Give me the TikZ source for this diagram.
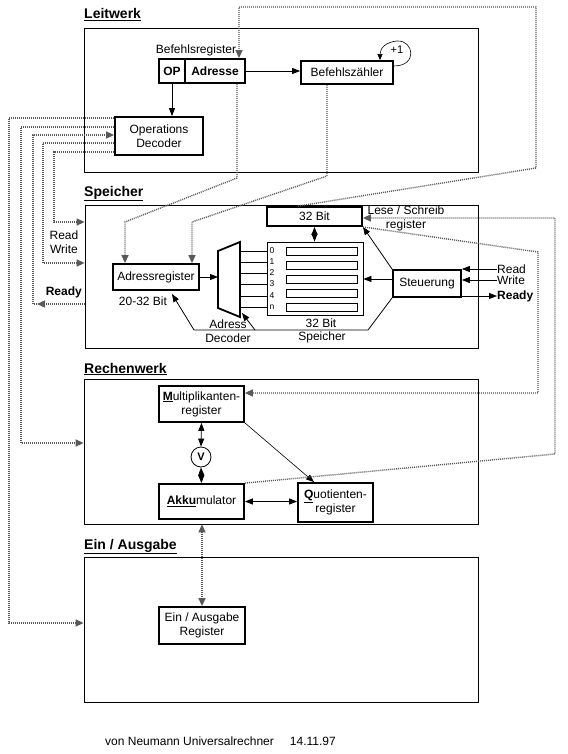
\documentclass[tikz,border=0pt]{standalone}
\usepackage{fontspec}
\setmainfont{Liberation Sans}
\usetikzlibrary{arrows.meta}
\definecolor{dg}{gray}{0.35}
\tikzset{
  tri/.tip={Triangle[length=8pt,width=6pt]},
  gtri/.tip={Triangle[length=8pt,width=7pt]},
  unitbox/.style={draw, line width=0.8pt, inner sep=0pt},
  reg/.style={draw, line width=1.8pt, inner sep=0pt, align=center, fill=white},
  hd/.style={anchor=base west, inner sep=0pt, font=\fontsize{14}{16}\selectfont\bfseries},
  lbl/.style={inner sep=0pt, align=center},
  sig/.style={line width=0.8pt, -tri},
  dsig/.style={line width=0.8pt, tri-tri},
  bus/.style={draw=dg, line width=1.4pt, dash pattern=on 1pt off 1pt, -gtri}
}

\begin{document}
\begin{tikzpicture}[x=1pt,y=-1pt,font=\fontsize{12}{14}\selectfont]
  \useasboundingbox (0,0) rectangle (567,754);
  % units
  \node[unitbox, minimum width=394pt, minimum height=144pt] (lw) at (281,100) {};
  \node[unitbox, minimum width=393pt, minimum height=143pt] (sp) at (281.5,276.5) {};
  \node[unitbox, minimum width=394pt, minimum height=145pt] (rw) at (281,451.5) {};
  \node[unitbox, minimum width=394pt, minimum height=145pt] (ea) at (281,629.5) {};
  \node[hd] (hlw) at (84,19) {\underline{Leitwerk}};
  \node[hd] (hsp) at (84,196) {\underline{Speicher}};
  \node[hd] (hrw) at (84,373) {\underline{Rechenwerk}};
  \node[hd] (hea) at (84,549) {\underline{Ein / Ausgabe}};

  % Leitwerk
  \node[lbl] (brl) at (196,50) {Befehlsregister};
  \node[reg, minimum width=26pt, minimum height=24pt, font=\fontsize{12}{14}\selectfont\bfseries] (op) at (172,71) {OP};
  \node[reg, minimum width=60pt, minimum height=24pt, font=\fontsize{12}{14}\selectfont\bfseries] (adrf) at (215,71) {Adresse};
  \node[reg, minimum width=92pt, minimum height=23pt] (bz) at (347,72.5) {Befehlszähler};
  \node[reg, minimum width=88pt, minimum height=38pt] (opdec) at (159,136) {Operations\\Decoder};
  \draw[sig] (adrf.east) -- (adrf.east -| bz.west);
  \draw[sig] (op.south) -- (op.south |- opdec.north);
  \draw[line width=0.6pt, -{Triangle[length=6pt,width=5pt]}] (bz.east |- 0,66) .. controls (418,66) and (414,40) .. (397,41) .. controls (386,42) and (380,48) .. (bz.north -| 380,0);
  \node[lbl, font=\fontsize{11}{13}\selectfont] (inc) at (397,50) {+1};

  % Speicher
  \node[reg, minimum width=86pt, minimum height=26pt] (areg) at (156,277) {Adressregister};
  \node[lbl] (abit) at (143,301) {20-32 Bit};
  \draw[line width=1.8pt] (218,251) -- (240,242) -- (240,317) -- (218,308) -- cycle;
  \coordinate (decin) at (218,277);
  \coordinate (decbr) at (242,313);
  \coordinate (actl) at (172,294);
  \draw[sig] (areg.east) -- (decin);
  \node[unitbox, minimum width=96pt, minimum height=73pt] (mem) at (315,278.5) {};
  \foreach \y/\k in {251/0,262/1,273/2,284/3,296/4,307/n} {
    \draw[line width=0.8pt] (240,\y) -- (mem.west |- 0,\y);
    \node[inner sep=0pt, font=\fontsize{8.5}{9}\selectfont] (idx\k) at (272,\y) {\k};}
  \foreach \y in {251.5,265.5,279.5,293.5,307.5}
    \draw[line width=0.8pt] (286,\y-4) rectangle (357,\y+4);
  \node[reg, minimum width=95pt, minimum height=19pt] (lsr) at (314.5,216.5) {32 Bit};
  \node[lbl] (lsr1) at (406,210) {Lese / Schreib};
  \node[lbl] (lsr2) at (406,225) {register};
  \node[reg, minimum width=68pt, minimum height=27pt] (steu) at (427,283.5) {Steuerung};
  \draw[dsig] (lsr.south) -- (lsr.south |- mem.north);
  \draw[sig] (steu.west |- 0,279) -- (mem.east |- 0,279);
  \draw[sig] (steu.north west) -- (lsr.south east);
  \draw[sig] (steu.south west) -- (368,330) -- (194,330) -- (actl);
  \draw[sig] (255,330) -- (decbr);
  \node[lbl] (dl1) at (228,324) {Adress};
  \node[lbl] (dl2) at (228,338) {Decoder};
  \node[lbl] (ml1) at (321,323) {32 Bit};
  \node[lbl] (ml2) at (322,337) {Speicher};
  \node[lbl, anchor=west] (rd) at (497,269) {Read};
  \node[lbl, anchor=west] (wr) at (497,280) {Write};
  \node[lbl, anchor=west, font=\fontsize{12}{14}\selectfont\bfseries] (ry) at (497,296) {Ready};
  \draw[sig] (rd.west) -- (steu.east |- rd.west);
  \draw[sig] (wr.west) -- (steu.east |- wr.west);
  \draw[sig] (steu.east |- ry.west) -- (ry.west);

  % Rechenwerk
  \node[reg, minimum width=85pt, minimum height=36pt] (mult) at (201.5,404) {\underline{\textbf{M}}ultiplikanten-\\register};
  \node[draw, circle, line width=0.8pt, minimum size=20pt, inner sep=0pt, font=\fontsize{11}{13}\selectfont\bfseries] (vv) at (201,457) {V};
  \node[reg, minimum width=85pt, minimum height=35pt] (akku) at (201.5,501.5) {\underline{\textbf{Akku}}mulator};
  \node[reg, minimum width=75pt, minimum height=39pt] (quot) at (335.5,502.5) {\underline{\textbf{Q}}uotienten-\\register};
  \draw[dsig] (mult.south) -- (vv.north);
  \draw[dsig] (vv.south) -- (akku.north);
  \draw[dsig] (akku.east) -- (quot.west |- akku.east);
  \draw[line width=0.6pt, -tri] (mult.south east) -- (quot.north -| 314,0);

  % Ein / Ausgabe
  \node[reg, minimum width=86pt, minimum height=37pt] (eareg) at (202,625.5) {Ein / Ausgabe\\Register};
  \draw[bus, gtri-gtri] (eareg.north |- rw.south) -- (eareg.north);

  % buses between the units
  \draw[bus] (adrf.south -| 237,0) -- (237,178) -- (125,222) -- (areg.north -| 125,0);
  \draw[bus] (bz.south -| 327,0) -- (327,176) -- (192,222) -- (areg.north -| 192,0);
  \draw[bus] (lsr.north -| 298,0) -- (536,168) -- (536,7) -- (239,7) -- (adrf.north -| 239,0);
  \draw[bus] (akku.north east) -- (555,454) -- (555,218) -- (lsr.east |- 0,218);
  \draw[bus] (lsr.south east) -- (538,252) -- (538,393) -- (mult.east |- 0,393);

  % control lines
  \coordinate (rdyb) at (37,304);
  \draw[bus] (opdec.west |- 0,118) -- (9,118) -- (9,623) -- (ea.west |- 0,623);
  \draw[bus] (opdec.west |- 0,127) -- (21,127) -- (21,443) -- (rw.west |- 0,443);
  \draw[bus] (sp.west |- 0,304) -- (rdyb);
  \draw[bus] (rdyb) -- (33,304) -- (33,135) -- (opdec.west |- 0,135);
  \draw[bus] (opdec.west |- 0,143) -- (43,143) -- (43,263) -- (sp.west |- 0,263);
  \draw[bus] (opdec.west |- 0,152) -- (54,152) -- (54,222) -- (sp.west |- 0,222);
  \node[lbl] (rdl) at (64,235) {Read};
  \node[lbl] (wrl) at (64,249) {Write};
  \node[lbl, anchor=east, font=\fontsize{12}{14}\selectfont\bfseries] (ryl) at (82,292) {Ready};

  \node[anchor=base west, inner sep=0pt] (ft) at (105,745) {von Neumann Universalrechner\hspace{16pt}14.11.97};
\end{tikzpicture}
\end{document}
